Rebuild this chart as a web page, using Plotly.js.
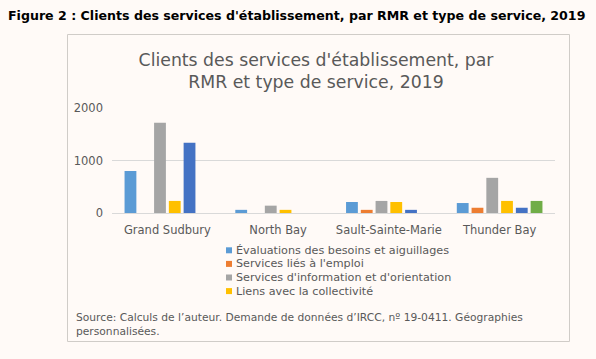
<!DOCTYPE html>
<html>
<head>
<meta charset="utf-8">
<script src="https://cdn.plot.ly/plotly-3.0.1.min.js"></script>
<style>html,body{margin:0;padding:0;background:#fffaf7;}#chart{width:596px;height:359px;}</style>
</head>
<body>
<div id="chart"></div>
<script>
const categories = ["Grand Sudbury", "North Bay", "Sault-Sainte-Marie", "Thunder Bay"];
const seriesNames = [
  "Évaluations des besoins et aiguillages",
  "Services liés à l'emploi",
  "Services d'information et d'orientation",
  "Liens avec la collectivité",
  "Évaluations linguistiques",
  "Formation linguistique"
];
const evaluations = [800, 60, 210, 190];
const emploi = [0, 0, 60, 100];
const information = [1720, 140, 230, 670];
const liens = [230, 60, 210, 230];
const evalLing = [1340, 0, 60, 100];
const formationLing = [0, 0, 0, 230];
const yTicks = [0, 1000, 2000];
const legendShown = 4;

const colors = ["#5b9bd5", "#ed7d31", "#a5a5a5", "#ffc000", "#4472c4", "#70ad47"];
const values = [evaluations, emploi, information, liens, evalLing, formationLing];

const W = 596, H = 359;
const px = x => x / W;
const py = y => 1 - y / H;

const traces = values.map((v, i) => ({
  type: "bar",
  name: seriesNames[i],
  x: categories,
  y: v,
  marker: {color: colors[i], line: {width: 0}},
  showlegend: false,
  hoverinfo: "x+y+name"
}));

const font = "DejaVu Sans, sans-serif";
const grey = "#595959";

const annotations = [
  {text: "<b>Figure 2 : Clients des services d'établissement, par RMR et type de service, 2019</b>",
   xref: "paper", yref: "paper", x: px(6), y: py(15), xanchor: "left", yanchor: "middle",
   showarrow: false, font: {family: font, size: 12.6, color: "#000000"}},
  {text: "Source: Calculs de l’auteur. Demande de données d’IRCC, nº 19-0411. Géographies<br>personnalisées.",
   xref: "paper", yref: "paper", x: px(74), y: py(324), xanchor: "left", yanchor: "middle", align: "left",
   showarrow: false, font: {family: font, size: 10.7, color: grey}}
];
const shapes = [
  {type: "rect", xref: "paper", yref: "paper", x0: px(67.5), x1: px(569.5), y0: py(34.5), y1: py(341.5),
   line: {color: "#d0ccc8", width: 1}, fillcolor: "rgba(0,0,0,0)", layer: "below"}
];
for (let i = 0; i < legendShown; i++) {
  const cy = 250.3 + i * 13.6;
  shapes.push({type: "rect", xref: "paper", yref: "paper",
    x0: px(226), x1: px(232), y0: py(cy - 3), y1: py(cy + 3),
    line: {width: 0}, fillcolor: colors[i]});
  annotations.push({text: seriesNames[i], xref: "paper", yref: "paper",
    x: px(234), y: py(cy), xanchor: "left", yanchor: "middle", showarrow: false,
    font: {family: font, size: 11.2, color: grey}});
}

const layout = {
  width: W, height: H,
  margin: {l: 0, r: 0, t: 0, b: 0},
  paper_bgcolor: "#fffaf7",
  plot_bgcolor: "rgba(0,0,0,0)",
  font: {family: font, color: grey},
  title: {text: "Clients des services d'établissement, par<br>RMR et type de service, 2019",
    xref: "paper", yref: "container", x: px(316), y: py(66), xanchor: "center", yanchor: "middle",
    font: {family: font, size: 17.3, color: grey}},
  barmode: "group",
  bargap: 0.2,
  bargroupgap: 0.2,
  showlegend: false,
  xaxis: {domain: [px(112), px(555)], showgrid: false, showline: true, linecolor: "#d9d9d9", linewidth: 1,
    ticks: "", tickfont: {family: font, size: 11.5, color: grey}, ticklabelstandoff: 6, fixedrange: true},
  yaxis: {domain: [py(213), py(108)], range: [0, 2000], tickvals: yTicks, ticktext: yTicks.map(String),
    showgrid: true, gridcolor: "#d9d9d9", gridwidth: 1, zeroline: false, showline: false, ticks: "",
    tickfont: {family: font, size: 11.5, color: grey}, ticklabelstandoff: 8, fixedrange: true},
  annotations: annotations,
  shapes: shapes
};

Plotly.newPlot("chart", traces, layout, {displayModeBar: false, staticPlot: true});
</script>
</body>
</html>
